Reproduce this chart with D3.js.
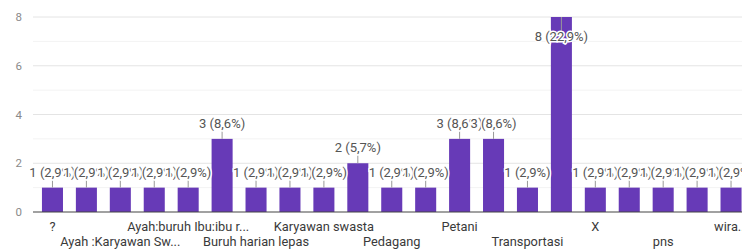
<!DOCTYPE html>
<html>
<head>
<meta charset="utf-8">
<script src="https://cdn.jsdelivr.net/npm/d3@7"></script>
<style>
  body { margin: 0; background: #fff; }
  text { font-family: Roboto, "Noto Sans", sans-serif; }
</style>
</head>
<body>
<div id="chart"></div>
<script>
// answers, in the order the form shows them (every other label is hidden on the axis)
const tickLabels = ["?", "", "Ayah :Karyawan Sw...", "", "Ayah:buruh Ibu:ibu r...", "", "Buruh harian lepas", "",
    "Karyawan swasta", "", "Pedagang", "", "Petani", "", "Transportasi", "", "X", "", "pns", "", "wira..."];
const counts = [1, 1, 1, 1, 1, 3, 1, 1, 1, 2, 1, 1, 3, 3, 1, 8, 1, 1, 1, 1, 1];
const pcts = ["2,9%", "2,9%", "2,9%", "2,9%", "2,9%", "8,6%", "2,9%", "2,9%", "2,9%", "5,7%", "2,9%",
    "2,9%", "8,6%", "8,6%", "2,9%", "22,9%", "2,9%", "2,9%", "2,9%", "2,9%", "2,9%"];
const yTicks = [0, 2, 4, 6, 8];
const yMinor = [1, 3, 5, 7];

let width = 742, height = 250;
let margin = {top: 17, left: 33, bottom: 38};

let svg = d3.select("#chart").append("svg")
    .attr("width", width)
    .attr("height", height);

let x = d3.scaleBand()
    .domain(d3.range(counts.length))
    .range([35.5, 748])
    .paddingInner(0.38)
    .paddingOuter(0.19);

let y = d3.scaleLinear()
    .domain([0, 8])
    .range([212, 17]);

//minor gridlines
svg.selectAll(".minor")
    .data(yMinor)
    .enter().append("line")
    .attr("x1", margin.left).attr("x2", width)
    .attr("y1", d => y(d)).attr("y2", d => y(d))
    .attr("stroke", "#f3f3f3");

//major gridlines + labels
svg.selectAll(".major")
    .data(yTicks.filter(d => d > 0))
    .enter().append("line")
    .attr("x1", margin.left).attr("x2", width)
    .attr("y1", d => y(d)).attr("y2", d => y(d))
    .attr("stroke", "#e4e4e4");

svg.selectAll(".ytick")
    .data(yTicks)
    .enter().append("text")
    .attr("x", 22)
    .attr("y", d => y(d) + 4)
    .attr("text-anchor", "end")
    .attr("font-size", 11.5)
    .attr("fill", "#8a8a8a")
    .text(d => d);

//bars
svg.selectAll(".bar")
    .data(counts)
    .enter().append("rect")
    .attr("x", (d, i) => x(i))
    .attr("width", x.bandwidth())
    .attr("y", d => y(d))
    .attr("height", d => y(0) - y(d))
    .attr("fill", "#673ab7");

//baseline
svg.append("line")
    .attr("x1", margin.left).attr("x2", width)
    .attr("y1", y(0)).attr("y2", y(0))
    .attr("stroke", "#444")
    .attr("stroke-width", 1.2);

//annotations: label above the bar, or inside when there is no room
function labelY(d) {
    let top = y(d);
    return top - 22 < margin.top ? top + 24 : top - 11;
}

svg.selectAll(".stem")
    .data(counts)
    .enter().append("line")
    .attr("x1", (d, i) => x(i) + x.bandwidth() / 2)
    .attr("x2", (d, i) => x(i) + x.bandwidth() / 2)
    .attr("y1", d => y(d))
    .attr("y2", d => y(d) - 22 < margin.top ? labelY(d) - 10 : labelY(d) + 1)
    .attr("stroke", "#999")
    .attr("stroke-width", 1);

svg.selectAll(".ann")
    .data(counts)
    .enter().append("text")
    .attr("x", (d, i) => x(i) + x.bandwidth() / 2)
    .attr("y", d => labelY(d))
    .attr("text-anchor", "middle")
    .attr("font-size", 13)
    .attr("fill", "#555")
    .attr("stroke", "#fff")
    .attr("stroke-width", 3)
    .attr("paint-order", "stroke")
    .text((d, i) => d + " (" + pcts[i] + ")");

//category labels in two alternating rows
svg.selectAll(".xlab")
    .data(tickLabels)
    .enter().append("text")
    .attr("x", (d, i) => x(i) + x.bandwidth() / 2)
    .attr("y", (d, i) => (i / 2) % 2 === 0 ? 231 : 246)
    .attr("text-anchor", "middle")
    .attr("font-size", 12.8)
    .attr("fill", "#3a3a3a")
    .text(d => d);
</script>
</body>
</html>
